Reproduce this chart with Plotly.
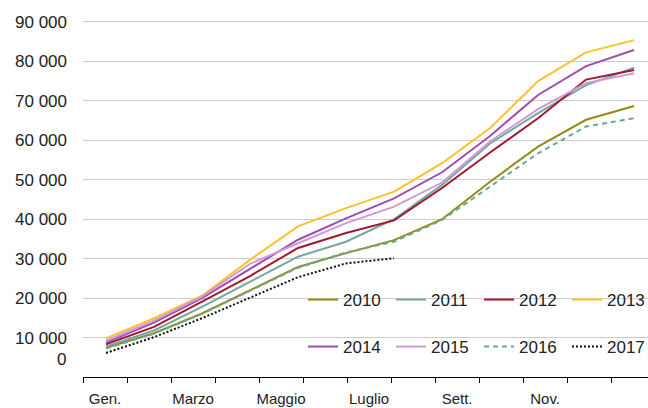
import plotly.graph_objects as go

MONTHS = ["Gen.", "Feb.", "Marzo", "Apr.", "Maggio", "Giu.", "Luglio", "Ago.", "Sett.", "Ott.", "Nov.", "Dic."]
TICK_LABELS = ["Gen.", "Marzo", "Maggio", "Luglio", "Sett.", "Nov."]
Y_TICKS = [10000, 20000, 30000, 40000, 50000, 60000, 70000, 80000, 90000]

y2010 = [7400, 11100, 16100, 22000, 27900, 31400, 34700, 40000, 49500, 58400, 65200, 68700]
y2011 = [7700, 11800, 17800, 24200, 30500, 34300, 40000, 48700, 59200, 66900, 74000, 78400]
y2012 = [8300, 12700, 19100, 25600, 32700, 36500, 39700, 47900, 56900, 65600, 75400, 77800]
y2013 = [9800, 14900, 20600, 29700, 38200, 42800, 47000, 54200, 63100, 75000, 82300, 85400]
y2014 = [8700, 13800, 20000, 27500, 34800, 40200, 45300, 51900, 61100, 71500, 78800, 82900]
y2015 = [9200, 14300, 20400, 28700, 33900, 39000, 43200, 49300, 59700, 67900, 74500, 77000]
y2016 = [7200, 11000, 16000, 21800, 27700, 31600, 34300, 39800, 48300, 56700, 63500, 65600]
y2017 = [6100, 10100, 14900, 20200, 25300, 28800, 30100]

series = [
    ("2010", y2010, "#948b13", "solid", "legend"),
    ("2011", y2011, "#74a89c", "solid", "legend"),
    ("2012", y2012, "#a3172f", "solid", "legend"),
    ("2013", y2013, "#ffc12b", "solid", "legend"),
    ("2014", y2014, "#9c4fae", "solid", "legend2"),
    ("2015", y2015, "#cc9bd8", "solid", "legend2"),
    ("2016", y2016, "#6aa89a", "5px,4px", "legend2"),
    ("2017", y2017, "#111111", "2px,2px", "legend2"),
]

FONT = "Liberation Sans, Arial, sans-serif"

# x axis in month-index units; the printed category grid is 44 px wide
# while the month points are 48 px apart (as in the reference)
X0 = -0.479
X1 = 11.29
CAT = 44.0 / 48.0
label_pos = [X0 + (2 * k + 0.5) * CAT for k in range(len(TICK_LABELS))]

fig = go.Figure()
for name, vals, color, dash, leg in series:
    fig.add_trace(go.Scatter(
        x=list(range(len(vals))), y=vals, name=name, mode="lines",
        text=MONTHS[:len(vals)], hovertemplate="%{text}: %{y}<extra>" + name + "</extra>",
        line=dict(color=color, width=2, dash=dash),
        legend=leg,
        legendwidth=(36 if name in ("2013", "2017") else None),
    ))

W, H = 648, 408
L, R, T, B = 83, 0, 20, 31
pw = W - L - R

fig.update_layout(
    width=W, height=H,
    margin=dict(l=L, r=R, t=T, b=B),
    paper_bgcolor="white", plot_bgcolor="white",
    font=dict(family=FONT, size=17, color="#222222"),
    separators=", ",
    showlegend=True,
    xaxis=dict(
        range=[X0, X1],
        tickmode="array",
        tickvals=label_pos,
        ticktext=TICK_LABELS,
        ticks="outside", ticklen=8, tickcolor="rgba(0,0,0,0)",
        tickfont=dict(size=15, color="#222222"),
        minor=dict(tickmode="linear", tick0=X0, dtick=CAT, ticks="outside",
                   ticklen=5, tickcolor="#000000", tickwidth=1, showgrid=False),
        showline=True, linecolor="#000000", linewidth=1,
        showgrid=False, zeroline=False, fixedrange=True,
    ),
    yaxis=dict(
        range=[0, 90500],
        tickmode="array", tickvals=Y_TICKS,
        tickformat=",d",
        ticklabelstandoff=15,
        showgrid=True, gridcolor="#cccccc", gridwidth=1,
        zeroline=False, showline=False,
        tickfont=dict(size=17, color="#222222"),
        fixedrange=True,
    ),
    legend=dict(
        orientation="h", x=(303 - L) / pw, xanchor="left",
        y=(377 - 300) / 357.0, yanchor="middle",
        entrywidth=43, entrywidthmode="pixels",
        bgcolor="rgba(0,0,0,0)", font=dict(size=17, color="#222222"),
    ),
    legend2=dict(
        orientation="h", x=(303 - L) / pw, xanchor="left",
        y=(377 - 347) / 357.0, yanchor="middle",
        entrywidth=43, entrywidthmode="pixels",
        bgcolor="rgba(0,0,0,0)", font=dict(size=17, color="#222222"),
    ),
    shapes=[dict(type="rect", xref="paper", yref="paper",
                 x0=(302 - L) / pw, x1=1.0, y0=(377 - 365) / 357.0, y1=(377 - 282) / 357.0,
                 fillcolor="white", line=dict(width=0), layer="between")],
    annotations=[dict(text="0", xref="paper", yref="y", x=0, y=0,
                      xanchor="right", yanchor="middle", xshift=-15, yshift=18,
                      showarrow=False, font=dict(size=17, color="#222222"))],
)

fig.write_html("out.html", config={"displayModeBar": False},
               post_script="document.body.style.margin='0';")
